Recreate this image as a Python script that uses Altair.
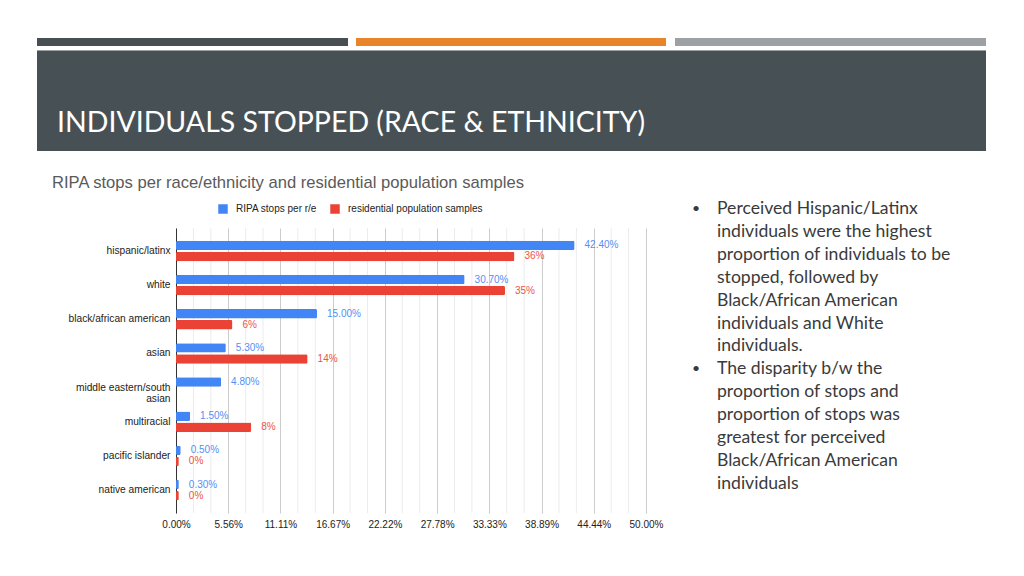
import altair as alt
import pandas as pd

# ---------------- data ----------------
categories = [
    "hispanic/latinx",
    "white",
    "black/african american",
    "asian",
    "middle eastern/south asian",
    "multiracial",
    "pacific islander",
    "native american",
]
series_names = ["RIPA stops per r/e", "residential population samples"]
ripa_stops = [0.424, 0.307, 0.150, 0.053, 0.048, 0.015, 0.005, 0.003]
residential = [0.36, 0.35, 0.06, 0.14, None, 0.08, 0.003, 0.003]

x_ticks = [i * 0.5 / 9 for i in range(10)]
minor_ticks = [i * 0.5 / 27 for i in range(28) if i % 3 != 0]

slide_title = "INDIVIDUALS STOPPED (RACE & ETHNICITY)"
chart_title = "RIPA stops per race/ethnicity and residential population samples"
bullet_1 = [
    "Perceived Hispanic/Latinx",
    "individuals were the highest",
    "proportion of individuals to be",
    "stopped, followed by",
    "Black/African American",
    "individuals and White",
    "individuals.",
]
bullet_2 = [
    "The disparity b/w the",
    "proportion of stops and",
    "proportion of stops was",
    "greatest for perceived",
    "Black/African American",
    "individuals",
]

rows = []
for c, a, b in zip(categories, ripa_stops, residential):
    rows.append({"category": c, "series": series_names[0], "value": a})
    if b is not None:
        rows.append({"category": c, "series": series_names[1], "value": b})
df = pd.DataFrame(rows)

BLUE = "#4285F4"
RED = "#EA4335"
FONT = "Liberation Sans"
SLIDE_FONT = "Lato"
LH = 22.9

W, H = 470, 285

y_enc = alt.Y(
    "category:N",
    sort=categories,
    title=None,
    scale=alt.Scale(paddingInner=0.4, paddingOuter=0.37),
    axis=alt.Axis(
        domain=True, domainColor="#333333", domainWidth=1,
        ticks=False, grid=False,
        labelFont=FONT, labelFontSize=10.2, labelColor="#222222",
        labelPadding=6, labelLineHeight=11,
        labelExpr="datum.value == 'middle eastern/south asian' ? ['middle eastern/south', 'asian'] : datum.label",
    ),
)
yoff_enc = alt.YOffset("series:N", sort=series_names, scale=alt.Scale(paddingInner=0.15))
x_enc = alt.X(
    "value:Q",
    title=None,
    scale=alt.Scale(domain=[0, 0.5], nice=False),
    axis=alt.Axis(
        values=x_ticks, format=".2%", domain=False, ticks=False,
        grid=True, gridColor="#cccccc", gridWidth=1,
        labelFlush=False, labelOverlap=False,
        labelFont=FONT, labelFontSize=10, labelColor="#222222", labelPadding=6,
    ),
)
color_enc = alt.Color(
    "series:N",
    sort=series_names,
    scale=alt.Scale(domain=series_names, range=[BLUE, RED]),
    legend=alt.Legend(
        orient="none", legendX=42, legendY=-24, direction="horizontal",
        title=None, symbolType="square", symbolSize=90, symbolStrokeWidth=0,
        labelFont=FONT, labelFontSize=10, labelColor="#222222",
        labelOffset=8, columnPadding=13, padding=0,
    ),
)

minor = alt.Chart(pd.DataFrame({"value": minor_ticks})).mark_rule(
    color="#ececec", strokeWidth=1
).encode(x=alt.X("value:Q", title=None))

bars = alt.Chart(df).mark_bar(cornerRadius=1.5).encode(
    x=x_enc, y=y_enc, yOffset=yoff_enc, color=color_enc
)

labels = alt.Chart(df).transform_calculate(
    lbl="format(datum.value, datum.series == 'RIPA stops per r/e' ? '.2%' : '.0%')"
).mark_text(
    align="left", baseline="middle", dx=10, font=FONT, fontSize=10, opacity=0.9
).encode(
    x="value:Q",
    y=alt.Y("category:N", sort=categories),
    yOffset=alt.YOffset("series:N", sort=series_names),
    text="lbl:N",
    color=alt.Color("series:N", sort=series_names, legend=None),
)

one = alt.Data(values=[{"a": 1}])


def rect(x1, x2, y1, y2, color):
    return alt.Chart(one).mark_rect(color=color).encode(
        x=alt.value(x1), x2=alt.value(x2), y=alt.value(y1), y2=alt.value(y2)
    )


def text(content, x, y, **kw):
    return alt.Chart(one).mark_text(text=content, align="left", **kw).encode(
        x=alt.value(x), y=alt.value(y)
    )


# slide decoration (coordinates relative to plot origin at page 176,228)
bar1 = rect(-139, 172, -190, -182, "#474f53")
bar2 = rect(180, 490, -190, -182, "#e8852b")
bar3 = rect(499, 810, -190, -182, "#9da1a4")
header_line = rect(-139, 810, -178, -177, "#9aa0a3")
header = rect(-139, 810, -177, -77, "#475155")

title_txt = text(slide_title, -119, -96, font=SLIDE_FONT, fontSize=28.5,
                 color="white", baseline="alphabetic")
chart_title_txt = text(chart_title, -124, -45, font=FONT, fontSize=16.6,
                       color="#5a5a5a", baseline="middle")

body = dict(font=SLIDE_FONT, fontSize=17.6, color="#3a3a3a",
            baseline="alphabetic", lineHeight=LH)
b1 = text(bullet_1, 541, -14, **body)
b2 = text(bullet_2, 541, -14 + 7 * LH, **body)
dot_style = dict(font=SLIDE_FONT, fontSize=14, color="#3a3a3a", baseline="alphabetic")
d1 = text("•", 516, -15, **dot_style)
d2 = text("•", 516, -15 + 7 * LH, **dot_style)

chart = alt.layer(
    bar1, bar2, bar3, header_line, header, title_txt, chart_title_txt,
    minor, bars, labels, b1, b2, d1, d2,
).properties(
    width=W, height=H,
    padding={"left": 168, "top": 220, "right": 370, "bottom": 55},
    autosize=alt.AutoSizeParams(type="none"),
    background="white",
).configure_view(stroke=None)

chart.save("out.html", embed_options={"renderer": "svg", "actions": False})
